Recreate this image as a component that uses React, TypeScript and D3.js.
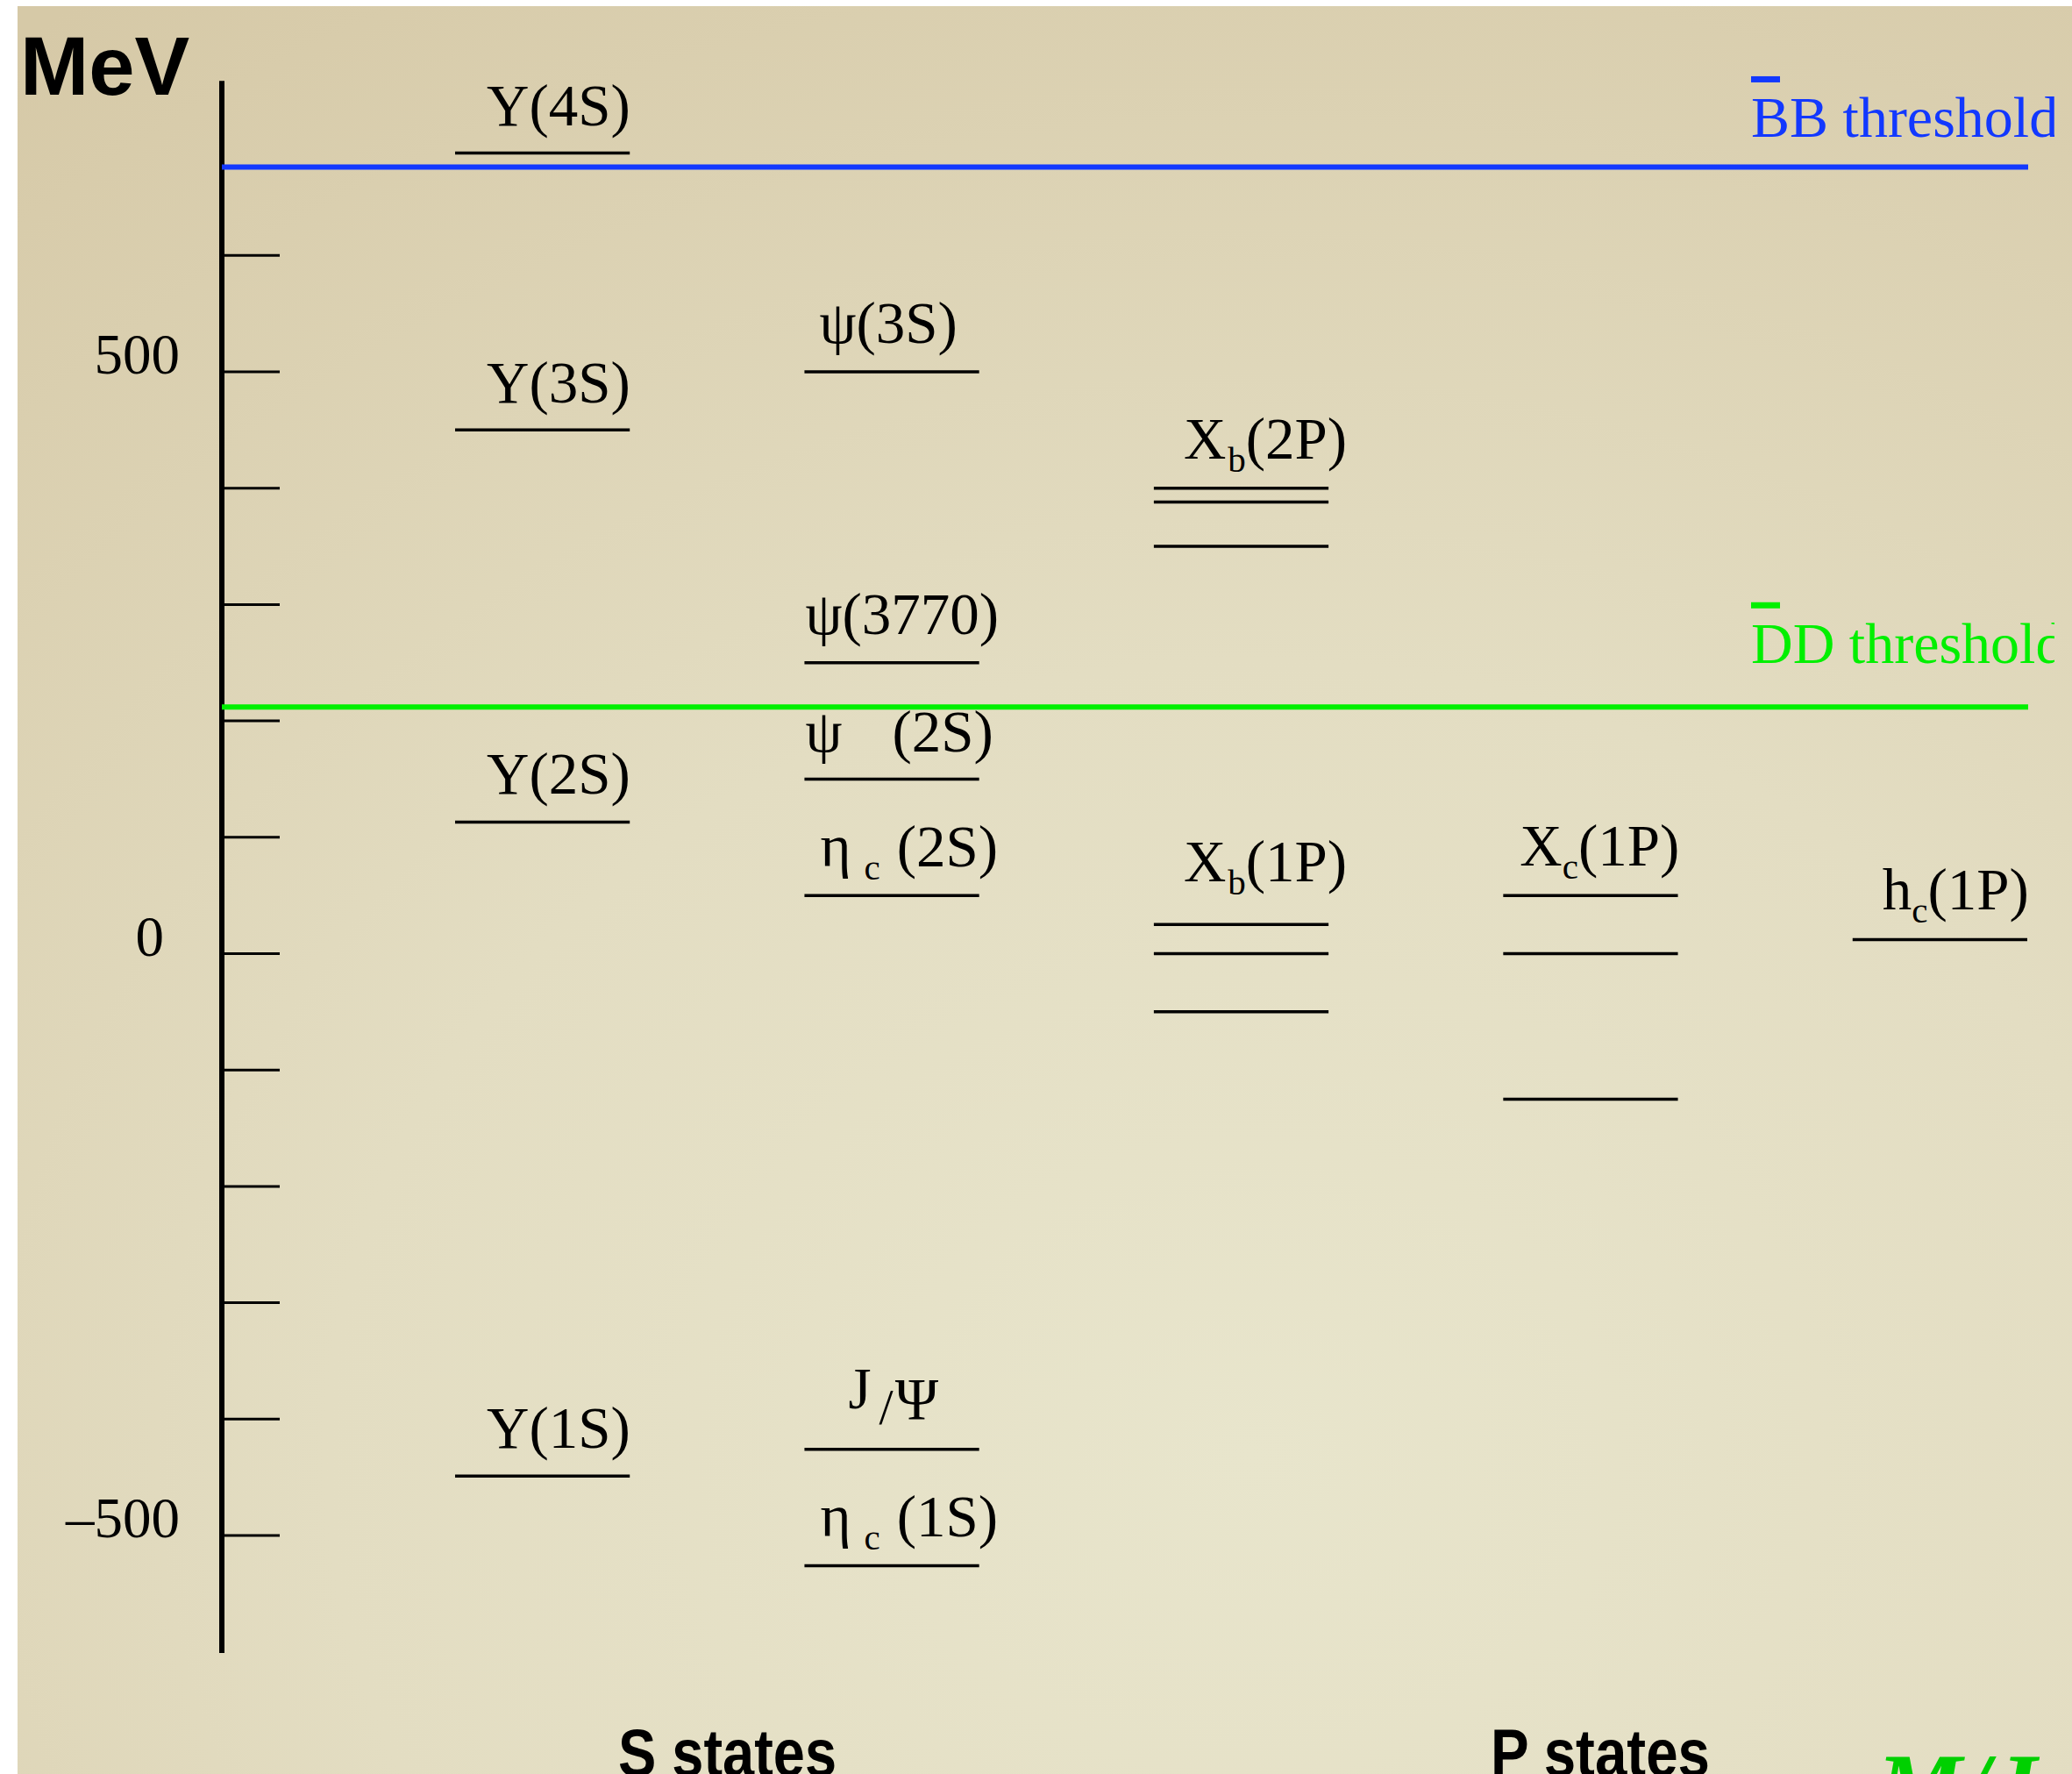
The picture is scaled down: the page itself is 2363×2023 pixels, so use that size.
import React from "react";
import * as d3 from "d3";

const W = 2363;
const H = 2023;

// columns of the level diagram, left to right
const columns = ["bbS", "ccS", "chib", "chic", "hc"];

// level energies in MeV, relative to the spin-averaged 1P mass
const upsilonMeV = [688, 450, 113, -449];
const psiMeV = [500, 250, 150, 50, -426, -526];
const chib2PMeV = [400, 388, 350];
const chib1PMeV = [25, 0, -50];
const chic1PMeV = [50, 0, -125];
const hc1PMeV = [12];

const levelGroups = [
  { col: "bbS", values: upsilonMeV },
  { col: "ccS", values: psiMeV },
  { col: "chib", values: chib2PMeV },
  { col: "chib", values: chib1PMeV },
  { col: "chic", values: chic1PMeV },
  { col: "hc", values: hc1PMeV },
];

// open-flavour thresholds
const thresholdNames = ["BB threshold", "DD threshold"];
const thresholdMeV = [676, 212];
const thresholdLabelMeV = [702, 250];
const thresholdColors = ["#1238ff", "#00f000"];

// axis
const tickValues = [600, 500, 400, 300, 200, 100, 0, -100, -200, -300, -400, -500];
const tickLabelValues = [500, 0, -500];
const tickLabels = ["500", "0", "\u2013500"];
const axisTop = 750;
const axisBottom = -601;

// horizontal nudge of each tick label (px), the "0" sits further left
const tickLabelShift = [0, -18, 0];

// state labels: text pieces, column, baseline energy (MeV)
type Part = { t: string; sub?: boolean; dx?: number; dy?: number; size?: number };
const labelParts: Part[][] = [
  [{ t: "Υ(4S)" }],
  [{ t: "Υ(3S)" }],
  [{ t: "Υ(2S)" }],
  [{ t: "Υ(1S)" }],
  [{ t: "ψ(3S)" }],
  [{ t: "ψ(3770)" }],
  [{ t: "ψ" }, { t: "(2S)", dx: 57 }],
  [{ t: "η" }, { t: "c", sub: true, dx: 15 }, { t: "(2S)", dx: 19 }],
  [{ t: "J" }, { t: "/", size: 58, dy: 18, dx: 9 }, { t: "Ψ", dy: 12, dx: 2 }],
  [{ t: "η" }, { t: "c", sub: true, dx: 15 }, { t: "(1S)", dx: 19 }],
  [{ t: "X" }, { t: "b", sub: true, dx: 2 }, { t: "(2P)" }],
  [{ t: "X" }, { t: "b", sub: true, dx: 2 }, { t: "(1P)" }],
  [{ t: "X" }, { t: "c", sub: true }, { t: "(1P)" }],
  [{ t: "h" }, { t: "c", sub: true }, { t: "(1P)" }],
];
const labelColumn = ["bbS", "bbS", "bbS", "bbS", "ccS", "ccS", "ccS", "ccS", "ccS", "ccS", "chib", "chib", "chic", "hc"];
const labelMeV = [712, 474, 137.5, -424.5, 525, 275, 174, 75, -391, -501, 425.5, 62, 76, 38];

// horizontal inset of each label from the left end of its column (px)
const labelInset = [36, 36, 36, 36, 17, 1, 1, 18, 50, 18, 34, 34, 19, 34];

const serif = "'Liberation Serif', 'Times New Roman', serif";
const sans = "'Liberation Sans', Arial, Helvetica, sans-serif";

function Label({ x, y, parts }: { x: number; y: number; parts: Part[] }) {
  let shift = 0;
  return (
    <text x={x} y={y} fontFamily={serif} fontSize={67} fill="#000">
      {parts.map((p, i) => {
        const target = p.dy ?? (p.sub ? 15 : 0);
        const dy = target - shift;
        shift = target;
        return (
          <tspan key={i} dx={p.dx ?? 0} dy={dy} fontSize={p.size ?? (p.sub ? 41 : undefined)}>
            {p.t}
          </tspan>
        );
      })}
    </text>
  );
}

export default function App() {
  const y = d3.scaleLinear().domain([-500, 500]).range([1751, 424]);
  const x = d3.scaleBand<string>().domain(columns).range([519, 2312]).paddingInner(0.5).paddingOuter(0);
  const axisX = 253;
  const lineEnd = 2313;

  return (
    <div style={{ position: "fixed", left: 0, top: 0 }}>
      <svg width={W} height={H} style={{ display: "block" }}>
        <defs>
          <radialGradient id="paper" cx="0.6" cy="0.82" r="1.0">
            <stop offset="0" stopColor="#e8e5cc" />
            <stop offset="0.45" stopColor="#e3ddc2" />
            <stop offset="1" stopColor="#d6c9a7" />
          </radialGradient>
          <clipPath id="frame">
            <rect x={0} y={0} width={2343} height={H} />
          </clipPath>
        </defs>
        <rect x={0} y={0} width={W} height={H} fill="#fff" />
        <rect x={20} y={7} width={W - 20} height={H - 7} fill="url(#paper)" />

        <text x={23} y={108} fontFamily={sans} fontWeight="bold" fontSize={94} fill="#000">
          MeV
        </text>

        {/* axis */}
        <line x1={axisX} x2={axisX} y1={y(axisTop)} y2={y(axisBottom)} stroke="#000" strokeWidth={6} />
        {tickValues.map((v) => (
          <line key={v} x1={axisX} x2={319} y1={y(v)} y2={y(v)} stroke="#000" strokeWidth={3} />
        ))}
        {tickLabelValues.map((v, i) => (
          <text key={v} x={205 + tickLabelShift[i]} y={y(v) + 2} textAnchor="end" fontFamily={serif} fontSize={65} fill="#000">
            {tickLabels[i]}
          </text>
        ))}

        {/* thresholds */}
        {thresholdNames.map((name, i) => (
          <g key={name} clipPath="url(#frame)">
            <line x1={axisX} x2={lineEnd} y1={y(thresholdMeV[i])} y2={y(thresholdMeV[i])} stroke={thresholdColors[i]} strokeWidth={6} />
            <text x={1997} y={y(thresholdLabelMeV[i])} fontFamily={serif} fontSize={66} fill={thresholdColors[i]}>
              {name}
            </text>
            <rect x={1997} y={y(thresholdLabelMeV[i]) - 69} width={33} height={7} fill={thresholdColors[i]} />
          </g>
        ))}

        {/* levels */}
        {levelGroups.map((g, gi) =>
          g.values.map((v, vi) => (
            <line
              key={gi + "-" + vi}
              x1={x(g.col)!}
              x2={x(g.col)! + x.bandwidth()}
              y1={y(v)}
              y2={y(v)}
              stroke="#000"
              strokeWidth={3.5}
            />
          ))
        )}

        {labelParts.map((parts, i) => (
          <Label key={i} x={x(labelColumn[i])! + labelInset[i]} y={y(labelMeV[i])} parts={parts} />
        ))}

        {/* bottom captions, cut by the page edge as in the slide */}
        <text x={705} y={2025} fontFamily={sans} fontWeight="bold" fontSize={76} textLength={249} lengthAdjust="spacingAndGlyphs" fill="#000">
          S states
        </text>
        <text x={1700} y={2025} fontFamily={sans} fontWeight="bold" fontSize={76} textLength={250} lengthAdjust="spacingAndGlyphs" fill="#000">
          P states
        </text>
        <text x={2140} y={2076} fontFamily={serif} fontStyle="italic" fontWeight="bold" fontSize={110} fill="#00d000">
          M/J
        </text>
      </svg>
    </div>
  );
}
